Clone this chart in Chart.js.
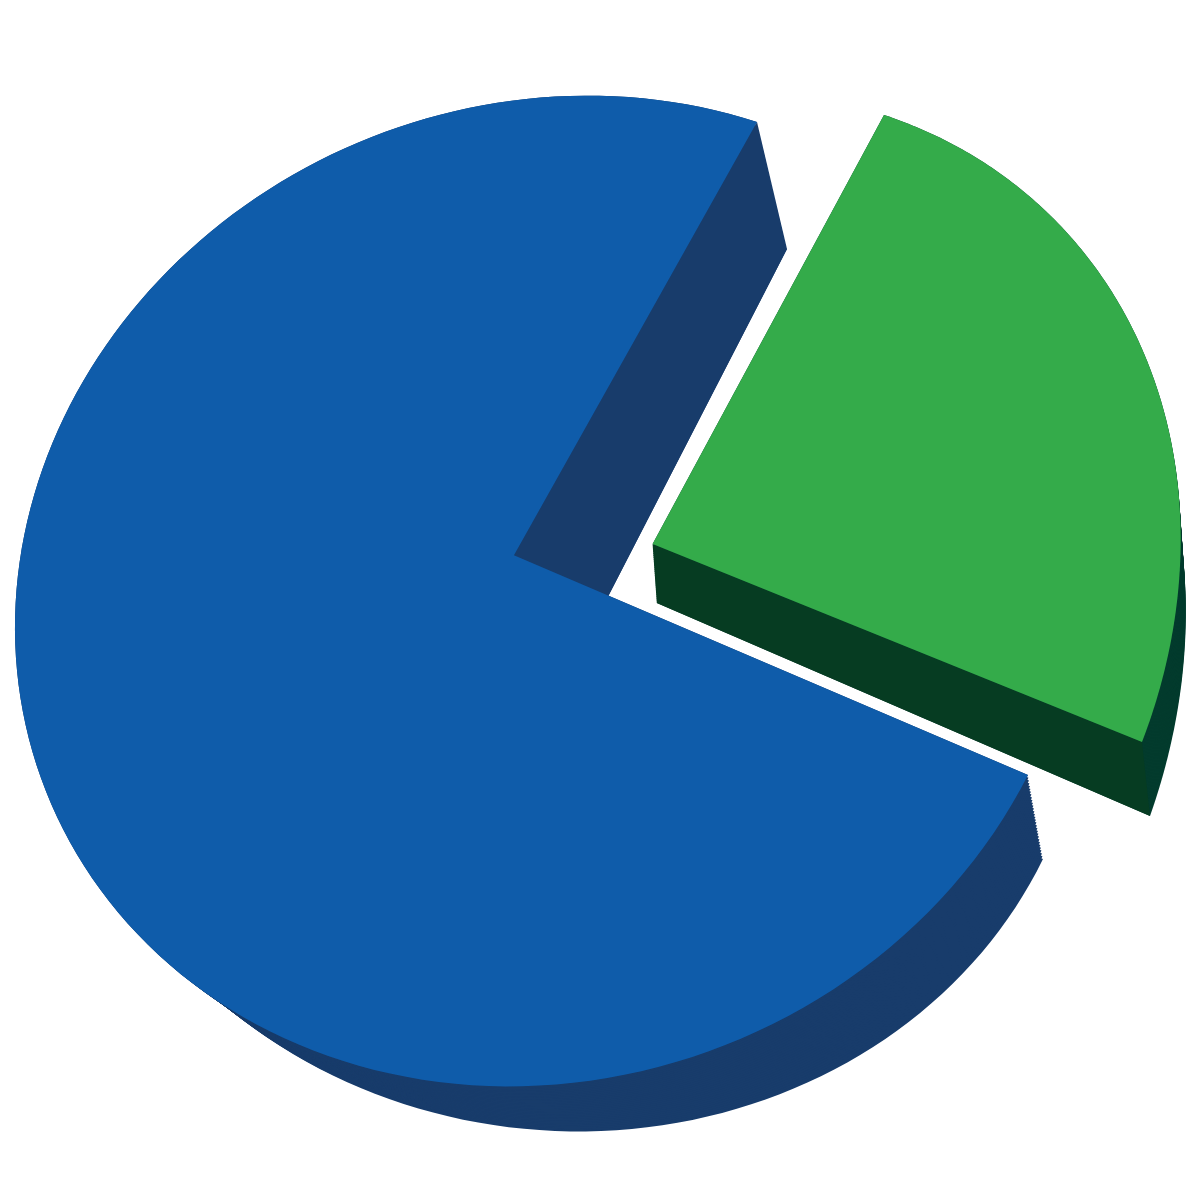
<!DOCTYPE html>
<html>
<head>
<meta charset="utf-8">
<style>
  html, body { margin: 0; background: #fff; }
  canvas { display: block; }
</style>
<script src="https://cdn.jsdelivr.net/npm/chart.js@4"></script>
</head>
<body>
<canvas id="grafica" width="1200" height="1200"></canvas>
<script>
const categories = ["Green share", "Blue share"];
const shares = [25, 75];
const faceColors = ["#34ab4a", "#0f5caa"];

// where the four quarter points of the tilted disc land on the page:
// angle -90, 0, 90 and 180 (the diagonals cross at the apex)
const discs = [
  {
    top:    [[884, 115], [1142, 742], [350, 1105], [225, 371]],
    bottom: [[894, 180], [1150, 816], [313, 1216], [238, 422]],
    rim: "#033b2d", wall: "#063c22"
  },
  {
    top:    [[757, 122], [1028, 775], [252, 1022], [88, 373]],
    bottom: [[787, 249], [1043, 859], [356, 1086], [110, 460]],
    rim: "#183c6b", wall: "#183c6b"
  }
];

// square to quad homography, disc points become the corners of the unit square
function quadMap(q) {
  const [p0, p1, p2, p3] = q;
  const dx1 = p1[0] - p2[0], dx2 = p3[0] - p2[0], sx = p0[0] - p1[0] + p2[0] - p3[0];
  const dy1 = p1[1] - p2[1], dy2 = p3[1] - p2[1], sy = p0[1] - p1[1] + p2[1] - p3[1];
  const den = dx1 * dy2 - dx2 * dy1;
  const g = (sx * dy2 - dx2 * sy) / den;
  const h = (dx1 * sy - sx * dy1) / den;
  const a = p1[0] - p0[0] + g * p1[0], b = p3[0] - p0[0] + h * p3[0], c = p0[0];
  const d = p1[1] - p0[1] + g * p1[1], e = p3[1] - p0[1] + h * p3[1], f = p0[1];
  return (x, y) => {
    const u = (x + y + 1) / 2, v = (y - x + 1) / 2;
    const w = g * u + h * v + 1;
    return [(a * u + b * v + c) / w, (d * u + e * v + f) / w];
  };
}

function mixQuad(q1, q2, t) {
  return q1.map((p, i) => [p[0] + (q2[i][0] - p[0]) * t, p[1] + (q2[i][1] - p[1]) * t]);
}

function sector(ctx, map, start, end) {
  const steps = 160;
  ctx.beginPath();
  const c = map(0, 0);
  ctx.moveTo(c[0], c[1]);
  for (let i = 0; i <= steps; i++) {
    const a = start + (end - start) * i / steps;
    const p = map(Math.cos(a), Math.sin(a));
    ctx.lineTo(p[0], p[1]);
  }
  ctx.closePath();
}

const tiltedPie = {
  id: "tiltedPie",
  beforeDatasetDraw(chart, args) {
    const ctx = chart.ctx;
    const arcs = args.meta.data;
    ctx.save();
    [1, 0].forEach(i => {
      const arc = arcs[i], disc = discs[i];
      const topMap = quadMap(disc.top);
      const bottomMap = quadMap(disc.bottom);
      // extruded rim
      for (let k = 30; k >= 0; k--) {
        const map = quadMap(mixQuad(disc.top, disc.bottom, k / 30));
        sector(ctx, map, arc.startAngle, arc.endAngle);
        ctx.fillStyle = disc.rim;
        ctx.fill();
      }
      // cut wall facing the viewer
      const cx = Math.cos(arc.endAngle), cy = Math.sin(arc.endAngle);
      const pts = [topMap(0, 0), bottomMap(0, 0), bottomMap(cx, cy), topMap(cx, cy)];
      ctx.beginPath();
      pts.forEach((p, n) => n ? ctx.lineTo(p[0], p[1]) : ctx.moveTo(p[0], p[1]));
      ctx.closePath();
      ctx.fillStyle = disc.wall;
      ctx.fill();
      sector(ctx, topMap, arc.startAngle, arc.endAngle);
      ctx.fillStyle = faceColors[i];
      ctx.fill();
    });
    ctx.restore();
    return false;
  }
};

new Chart(document.getElementById("grafica"), {
  type: "pie",
  data: {
    labels: categories,
    datasets: [{ data: shares, backgroundColor: faceColors, borderWidth: 0 }]
  },
  options: {
    responsive: false,
    animation: false,
    devicePixelRatio: 1,
    plugins: { legend: { display: false }, tooltip: { enabled: false } }
  },
  plugins: [tiltedPie]
});
</script>
</body>
</html>
